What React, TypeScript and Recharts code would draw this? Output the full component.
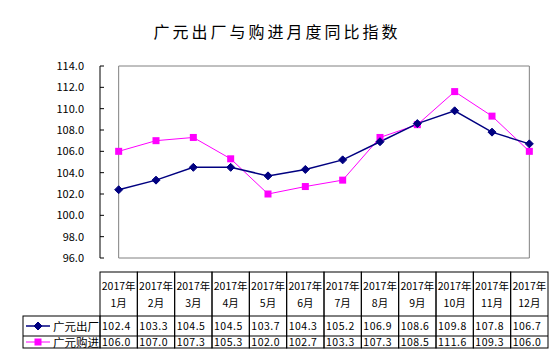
import { LineChart, Line, XAxis, YAxis, ReferenceArea } from 'recharts';

const months = ['1月', '2月', '3月', '4月', '5月', '6月', '7月', '8月', '9月', '10月', '11月', '12月'];
const year = '2017年';
const chuchang = [102.4, 103.3, 104.5, 104.5, 103.7, 104.3, 105.2, 106.9, 108.6, 109.8, 107.8, 106.7];
const goujin = [106.0, 107.0, 107.3, 105.3, 102.0, 102.7, 103.3, 107.3, 108.5, 111.6, 109.3, 106.0];
const yTicks = [96, 98, 100, 102, 104, 106, 108, 110, 112, 114];
const seriesNames = ['广元出厂', '广元购进'];

const NAVY = '#000080';
const MAGENTA = '#ff00ff';
const FONT = '"Noto Sans CJK SC", "DejaVu Sans", sans-serif';

const W = 554;
const H = 363;
const PLOT_LEFT = 100;
const PLOT_RIGHT = 548;
const BAND = (PLOT_RIGHT - PLOT_LEFT) / months.length;
const T_TOP = 272;
const T_HEAD = 316;
const T_ROW1 = 336;
const T_ROW2 = 348;

const data = months.map((m, i) => ({ month: m, chuchang: chuchang[i], goujin: goujin[i] }));

function Diamond(props: any) {
  const { cx, cy } = props;
  if (cx == null || cy == null) return null;
  return <path d={`M${cx},${cy - 4}L${cx + 4},${cy}L${cx},${cy + 4}L${cx - 4},${cy}Z`} fill={NAVY} stroke={NAVY} />;
}

function Square(props: any) {
  const { cx, cy } = props;
  if (cx == null || cy == null) return null;
  return <rect x={cx - 3.5} y={cy - 3.5} width={7} height={7} fill={MAGENTA} />;
}

function TableColumn(props: any) {
  const { x, payload } = props;
  const i = props.index ?? months.indexOf(payload.value);
  const left = x - BAND / 2;
  const txt = { fontFamily: FONT, fontSize: 10.5, fill: '#000' };
  return (
    <g>
      <rect x={left} y={T_TOP} width={BAND} height={T_ROW2 - T_TOP} fill="none" stroke="#000" />
      <line x1={left} x2={left + BAND} y1={T_HEAD} y2={T_HEAD} stroke="#000" />
      <line x1={left} x2={left + BAND} y1={T_ROW1} y2={T_ROW1} stroke="#000" />
      <text x={x} y={290} textAnchor="middle" {...txt}>{year}</text>
      <text x={x} y={307} textAnchor="middle" {...txt}>{payload.value}</text>
      <text x={left + 2} y={330} {...txt} letterSpacing={0.5}>{chuchang[i].toFixed(1)}</text>
      <text x={left + 2} y={346} {...txt} letterSpacing={0.5}>{goujin[i].toFixed(1)}</text>
      {i === 0 && (
        <g>
          <rect x={23} y={T_HEAD} width={left - 23} height={T_ROW2 - T_HEAD} fill="none" stroke="#000" />
          <line x1={23} x2={left} y1={T_ROW1} y2={T_ROW1} stroke="#000" />
          <line x1={26} x2={50} y1={326} y2={326} stroke={NAVY} strokeWidth={1.5} />
          <Diamond cx={38} cy={326} />
          <line x1={26} x2={50} y1={342} y2={342} stroke={MAGENTA} />
          <Square cx={38} cy={342} />
          <text x={53} y={331} fontFamily={FONT} fontSize={11.5} fill="#000">{seriesNames[0]}</text>
          <text x={53} y={347} fontFamily={FONT} fontSize={11.5} fill="#000">{seriesNames[1]}</text>
        </g>
      )}
    </g>
  );
}

export default function App() {
  return (
    <div style={{ width: W, height: H, position: 'relative', background: '#fff' }}>
      <style>{`body{margin:0}`}</style>
      <div
        style={{
          position: 'absolute',
          top: 19,
          left: 0,
          width: W,
          textAlign: 'center',
          fontFamily: FONT,
          fontSize: 16,
          letterSpacing: 3,
          color: '#000',
        }}
      >
        广元出厂与购进月度同比指数
      </div>
      <LineChart width={W} height={H} data={data} margin={{ top: 66, right: W - PLOT_RIGHT, left: 40, bottom: 15 }}>
        <ReferenceArea y1={96} y2={114} fill="none" stroke="#808080" strokeWidth={1} ifOverflow="visible" />
        <XAxis
          dataKey="month"
          interval={0}
          axisLine={false}
          tickLine={false}
          height={90}
          padding={{ left: BAND / 2, right: BAND / 2 }}
          tick={<TableColumn />}
        />
        <YAxis
          domain={[96, 114]}
          ticks={yTicks}
          width={60}
          axisLine={{ stroke: '#000' }}
          tickLine={{ stroke: '#000' }}
          tickSize={-4}
          tickMargin={20}
          tickFormatter={(v: number) => v.toFixed(1)}
          tick={{ fontFamily: FONT, fontSize: 11, fill: '#000' }}
        />
        <Line
          dataKey="goujin"
          stroke={MAGENTA}
          strokeWidth={1}
          dot={<Square />}
          isAnimationActive={false}
        />
        <Line
          dataKey="chuchang"
          stroke={NAVY}
          strokeWidth={1.5}
          dot={<Diamond />}
          isAnimationActive={false}
        />
      </LineChart>
    </div>
  );
}
